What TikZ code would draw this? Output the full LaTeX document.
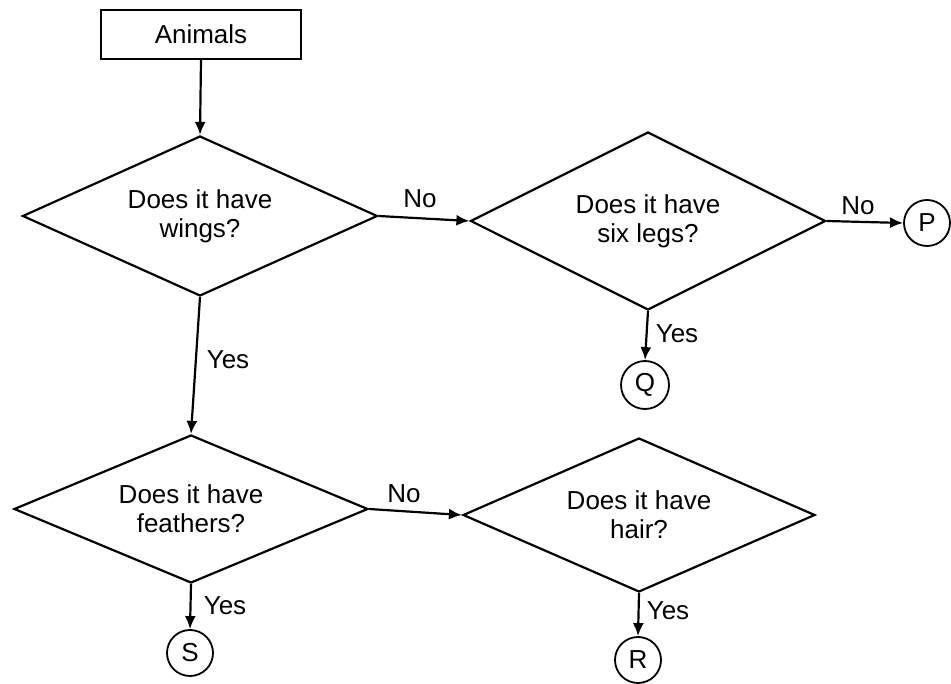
\documentclass[tikz,border=0pt]{standalone}
\usepackage{fontspec}
\setmainfont{Liberation Sans}
\usetikzlibrary{shapes.geometric,arrows.meta}
\begin{document}
\begin{tikzpicture}[x=1pt,y=-1pt,
  every node/.style={font=\fontsize{26}{29}\selectfont},
  dia/.style={diamond,draw,line width=2.2pt,inner sep=0pt,aspect=2.3,align=center},
  term/.style={circle,draw,line width=1.8pt,minimum size=46pt,inner sep=0pt},
  lbl/.style={inner sep=0pt},
  conn/.style={line width=2.2pt,-{Latex[length=13pt,width=11pt]}}]
\useasboundingbox (0,0) rectangle (951,684);
\node[draw,line width=2.2pt,minimum width=200pt,minimum height=49pt,inner sep=0pt] (animals) at (201,34.5) {Animals};
\node[dia,minimum width=355pt,minimum height=160pt] (d1) at (200,216) {Does it have\\wings?};
\node[dia,minimum width=355pt,minimum height=178pt] (d2) at (648,221) {Does it have\\six legs?};
\node[dia,minimum width=354pt,minimum height=148pt] (d3) at (191,509) {Does it have\\feathers?};
\node[dia,minimum width=352pt,minimum height=154pt] (d4) at (639,515) {Does it have\\hair?};
\node[term] (p) at (927,223) {P};
\node[term,minimum size=48pt] (q) at (645,385) {Q};
\node[term] (s) at (190,653) {S};
\node[term] (r) at (638,660) {R};
\draw[conn] (animals.south) -- (d1.north);
\draw[conn] (d1.east) -- (d2.west);
\draw[conn] (d2.east) -- (p.west);
\draw[conn] (d2.south) -- (q.north);
\draw[conn] (d1.south) -- (d3.north);
\draw[conn] (d3.east) -- (d4.west);
\draw[conn] (d3.south) -- (s.north);
\draw[conn] (d4.south) -- (r.north);
\node[lbl] (no1) at (420,199) {No};
\node[lbl] (no2) at (858,206) {No};
\node[lbl] (no3) at (404,494) {No};
\node[lbl] (yes1) at (228,360) {Yes};
\node[lbl] (yes2) at (677,334) {Yes};
\node[lbl] (yes3) at (225,606) {Yes};
\node[lbl] (yes4) at (668,611) {Yes};
\end{tikzpicture}
\end{document}
